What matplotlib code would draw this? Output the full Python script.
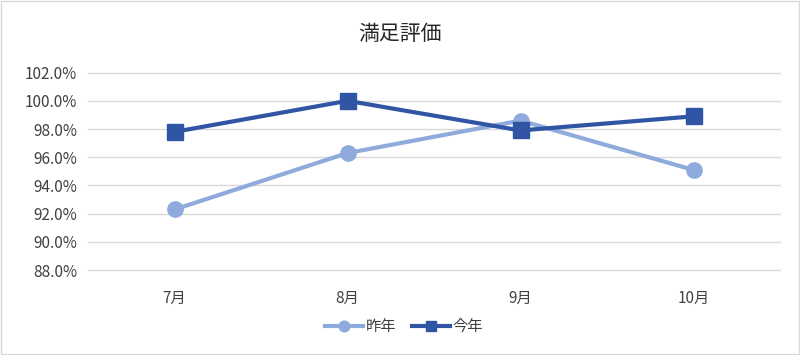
import matplotlib
matplotlib.use("Agg")
import matplotlib.pyplot as plt
from matplotlib.ticker import FuncFormatter
from matplotlib.patches import Rectangle

plt.rcParams['font.family'] = ['Noto Sans CJK JP', 'DejaVu Sans']

categories = ["7月", "8月", "9月", "10月"]
last_year = [92.3, 96.3, 98.6, 95.1]
this_year = [97.8, 100.0, 97.9, 98.9]
yticks = [88, 90, 92, 94, 96, 98, 100, 102]

fig = plt.figure(figsize=(8, 3.55), dpi=100)
ax = fig.add_axes([0.11, 0.239, 0.865, 0.5565])

x = range(len(categories))
ax.plot(x, last_year, color="#8FAADC", lw=3, marker="o", ms=11, label="昨年", zorder=3)
ax.plot(x, this_year, color="#2F55A4", lw=3, marker="s", ms=11, label="今年", zorder=4)

ax.set_xlim(-0.5, 3.5)
ax.set_ylim(88, 102)
ax.set_yticks(yticks)
ax.yaxis.set_major_formatter(FuncFormatter(lambda v, p: f"{v:.1f}%"))
ax.set_xticks(list(x))
ax.set_xticklabels(categories)
ax.grid(axis="y", color="#D9D9D9", lw=1)
for gl in ax.get_ygridlines():
    gl.set_clip_on(False)
ax.set_axisbelow(True)
for s in ax.spines.values():
    s.set_visible(False)
ax.tick_params(length=0, labelsize=11, colors="#404040", pad=8)
ax.tick_params(axis="x", pad=14)

fig.text(0.5, 0.905, "満足評価", ha="center", va="center", fontsize=15, color="#262626")

leg = fig.legend(loc="center", bbox_to_anchor=(0.505, 0.08), ncol=2, frameon=False,
                 fontsize=11, handlelength=2.5, columnspacing=1.0, handletextpad=0.2,
                 markerscale=0.7)
for t in leg.get_texts():
    t.set_color("#404040")

fig.patches.append(Rectangle((0.001, 0.002), 0.998, 0.995, transform=fig.transFigure,
                             fill=False, edgecolor="#D9D9D9", lw=1))

fig.savefig("out.png", dpi=100)
